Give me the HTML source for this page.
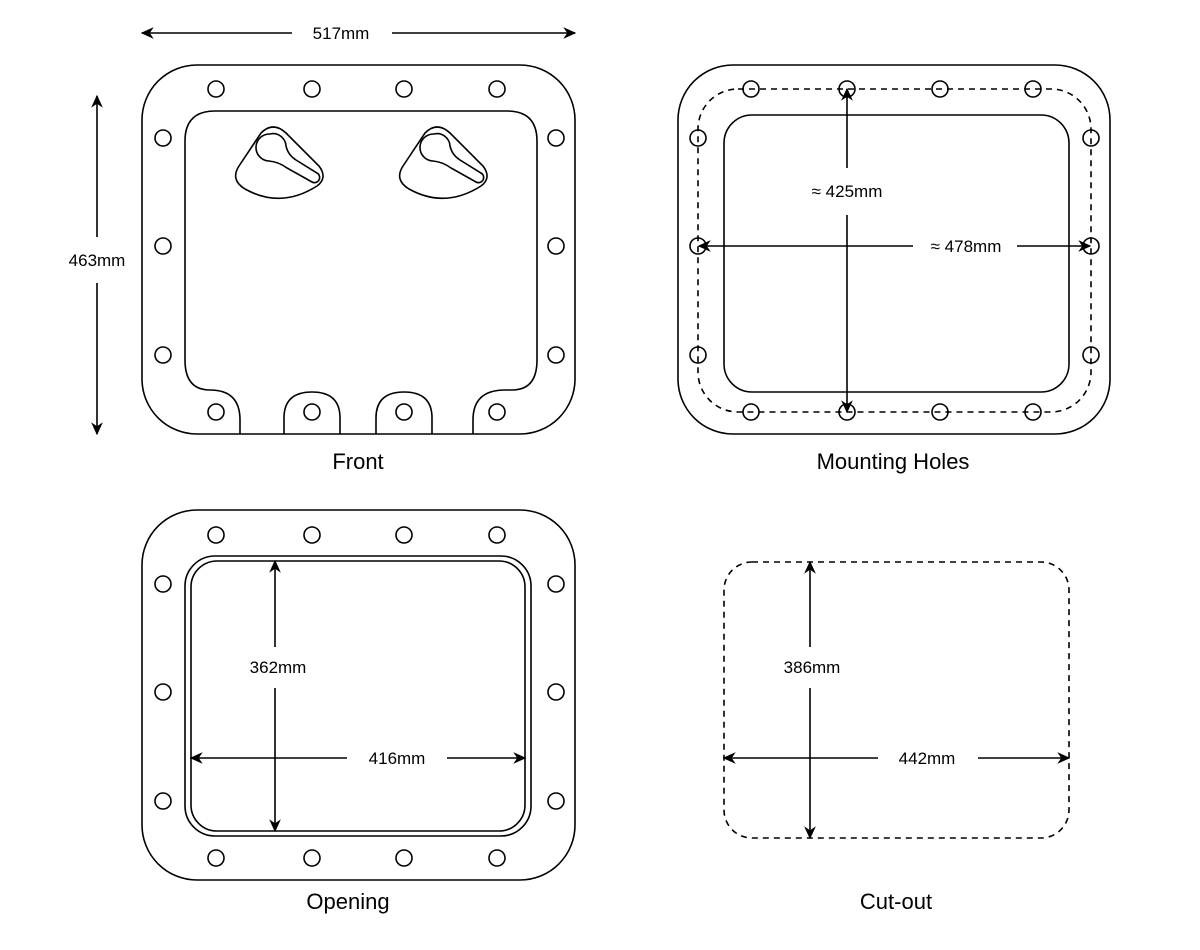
<!DOCTYPE html>
<html><head><meta charset="utf-8"><style>html,body{margin:0;padding:0;background:#fff}svg{display:block}</style></head>
<body>
<svg width="1200" height="950" viewBox="0 0 1200 950" xmlns="http://www.w3.org/2000/svg" font-family="Liberation Sans, sans-serif">
<defs>
<marker id="a" viewBox="0 0 10 10" refX="9" refY="5" markerWidth="13" markerHeight="13" orient="auto-start-reverse" markerUnits="userSpaceOnUse"><path d="M0,0.5 L10,5 L0,9.5 L3,5 Z" fill="#000"/></marker>
</defs>
<g fill="none" stroke="#000" stroke-width="1.6">
<!-- FRONT -->
<rect x="142" y="65" width="433" height="369" rx="55"/>
<path d="M185,360 V141 Q185,111 215,111 H507 Q537,111 537,141 V360 Q537,390 512,390 H505 Q473,390 473,420 V434"/>
<path d="M185,360 Q185,390 210,390 Q240,390 240,420 V434"/>
<path d="M284,434 V418 Q284,392 312,392 Q340,392 340,418 V434"/>
<path d="M376,434 V418 Q376,392 404,392 Q432,392 432,418 V434"/>
<g id="kh">
<path d="M261,133 Q273,121 286,133 L319,166 Q328,178 317,186 Q281,209 245,189 Q230,180 239,166 Z"/>
<path d="M270,134 A13 13 0 0 1 286,146 Q288,155 296,160 L317,173 A5 5 0 0 1 312,182 L287,168 Q279,162 269,161 A13.5 13.5 0 0 1 270,134 Z"/>
</g>
<use href="#kh" transform="translate(164,0)"/>
<g id="holes">
<circle cx="216" cy="89" r="8"/><circle cx="312" cy="89" r="8"/><circle cx="404" cy="89" r="8"/><circle cx="497" cy="89" r="8"/>
<circle cx="163" cy="138" r="8"/><circle cx="163" cy="246" r="8"/><circle cx="163" cy="355" r="8"/>
<circle cx="556" cy="138" r="8"/><circle cx="556" cy="246" r="8"/><circle cx="556" cy="355" r="8"/>
<circle cx="216" cy="412" r="8"/><circle cx="312" cy="412" r="8"/><circle cx="404" cy="412" r="8"/><circle cx="497" cy="412" r="8"/>
</g>
<!-- MOUNTING -->
<rect x="678" y="65" width="432" height="369" rx="55"/>
<rect x="698" y="89" width="393" height="323" rx="40" stroke-dasharray="6,5"/>
<rect x="724" y="115" width="345" height="277" rx="28"/>
<circle cx="751" cy="89" r="8"/><circle cx="847" cy="89" r="8"/><circle cx="940" cy="89" r="8"/><circle cx="1033" cy="89" r="8"/>
<circle cx="698" cy="138" r="8"/><circle cx="698" cy="246" r="8"/><circle cx="698" cy="355" r="8"/>
<circle cx="1091" cy="138" r="8"/><circle cx="1091" cy="246" r="8"/><circle cx="1091" cy="355" r="8"/>
<circle cx="751" cy="412" r="8"/><circle cx="847" cy="412" r="8"/><circle cx="940" cy="412" r="8"/><circle cx="1033" cy="412" r="8"/>
<!-- OPENING -->
<rect x="142" y="510" width="433" height="370" rx="55"/>
<rect x="185" y="556" width="346" height="280" rx="30"/>
<rect x="191" y="561" width="334" height="270" rx="26"/>
<use href="#holes" transform="translate(0,446)"/>
<!-- CUT-OUT -->
<rect x="724" y="562" width="345" height="276" rx="28" stroke-dasharray="6,5"/>
</g>
<g stroke="#000" stroke-width="1.6" fill="none">
<line x1="292" y1="33" x2="142" y2="33" marker-end="url(#a)"/>
<line x1="392" y1="33" x2="575" y2="33" marker-end="url(#a)"/>
<line x1="97" y1="237" x2="97" y2="96" marker-end="url(#a)"/>
<line x1="97" y1="283" x2="97" y2="434" marker-end="url(#a)"/>
<line x1="847" y1="168" x2="847" y2="89" marker-end="url(#a)"/>
<line x1="847" y1="215" x2="847" y2="412" marker-end="url(#a)"/>
<line x1="913" y1="246" x2="699" y2="246" marker-end="url(#a)"/>
<line x1="1017" y1="246" x2="1090" y2="246" marker-end="url(#a)"/>
<line x1="275" y1="647" x2="275" y2="561" marker-end="url(#a)"/>
<line x1="275" y1="688" x2="275" y2="831" marker-end="url(#a)"/>
<line x1="347" y1="758" x2="191" y2="758" marker-end="url(#a)"/>
<line x1="447" y1="758" x2="525" y2="758" marker-end="url(#a)"/>
<line x1="810" y1="647" x2="810" y2="562" marker-end="url(#a)"/>
<line x1="810" y1="688" x2="810" y2="838" marker-end="url(#a)"/>
<line x1="878" y1="758" x2="724" y2="758" marker-end="url(#a)"/>
<line x1="978" y1="758" x2="1069" y2="758" marker-end="url(#a)"/>
</g>
<g font-size="17" text-anchor="middle" fill="#000">
<text x="341" y="39">517mm</text>
<text x="97" y="266">463mm</text>
<text x="847" y="197">≈ 425mm</text>
<text x="966" y="252">≈ 478mm</text>
<text x="278" y="673">362mm</text>
<text x="397" y="764">416mm</text>
<text x="812" y="673">386mm</text>
<text x="927" y="764">442mm</text>
</g>
<g font-size="22" text-anchor="middle" fill="#000">
<text x="358" y="469">Front</text>
<text x="893" y="469">Mounting Holes</text>
<text x="348" y="909">Opening</text>
<text x="896" y="909">Cut-out</text>
</g>
</svg>
</body></html>
